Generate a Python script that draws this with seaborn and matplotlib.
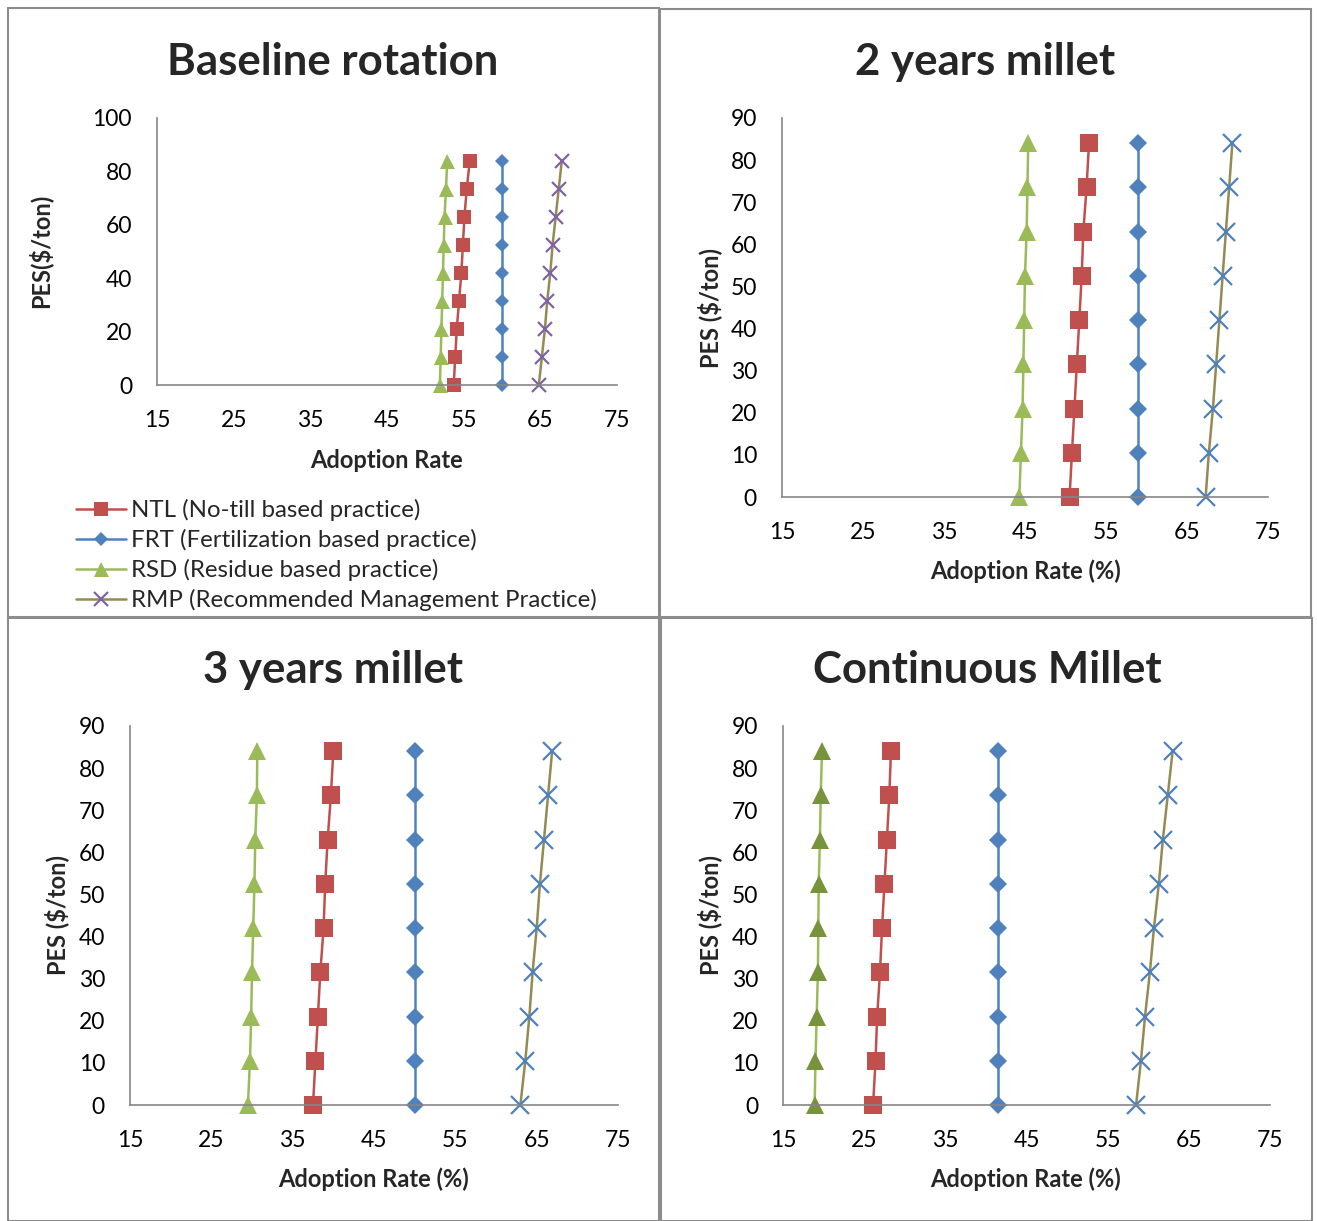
import matplotlib
matplotlib.use("Agg")
import matplotlib.pyplot as plt
import seaborn as sns
import pandas as pd
from matplotlib.patches import Rectangle
from matplotlib.lines import Line2D

# PES levels ($/ton), shared by every panel
pes = [0, 10.5, 21, 31.5, 42, 52.5, 63, 73.5, 84]

# Baseline rotation (adoption rate, %)
base_ntl = [53.7, 53.9, 54.1, 54.4, 54.7, 54.9, 55.1, 55.4, 55.8]
base_frt = [60.0, 60.0, 60.0, 60.0, 60.0, 60.0, 60.0, 60.0, 60.0]
base_rsd = [51.9, 52.0, 52.1, 52.2, 52.3, 52.4, 52.5, 52.7, 52.85]
base_rmp = [64.8, 65.2, 65.6, 65.9, 66.3, 66.6, 67.0, 67.4, 67.8]

# 2 years millet
y2_ntl = [50.5, 50.8, 51.1, 51.4, 51.7, 52.0, 52.2, 52.6, 52.9]
y2_frt = [58.9, 58.9, 58.9, 58.9, 58.9, 58.9, 58.9, 58.9, 58.9]
y2_rsd = [44.3, 44.5, 44.7, 44.8, 44.9, 45.0, 45.2, 45.3, 45.4]
y2_rmp = [67.3, 67.7, 68.2, 68.6, 69.0, 69.4, 69.8, 70.2, 70.6]

# 3 years millet
y3_ntl = [37.5, 37.8, 38.1, 38.4, 38.8, 39.0, 39.3, 39.7, 40.0]
y3_frt = [50.1, 50.1, 50.1, 50.1, 50.1, 50.1, 50.1, 50.1, 50.1]
y3_rsd = [29.5, 29.75, 29.9, 30.0, 30.15, 30.3, 30.4, 30.6, 30.65]
y3_rmp = [63.0, 63.6, 64.1, 64.5, 65.0, 65.4, 65.9, 66.4, 66.9]

# Continuous millet
cm_ntl = [26.1, 26.4, 26.6, 26.95, 27.2, 27.5, 27.8, 28.1, 28.3]
cm_frt = [41.5, 41.5, 41.5, 41.5, 41.5, 41.5, 41.5, 41.5, 41.5]
cm_rsd = [18.9, 19.0, 19.15, 19.3, 19.35, 19.4, 19.55, 19.65, 19.8]
cm_rmp = [58.5, 59.1, 59.6, 60.2, 60.7, 61.3, 61.8, 62.4, 63.0]

titles = ["Baseline rotation", "2 years millet", "3 years millet", "Continuous Millet"]
ylabels = ["PES($/ton)", "PES ($/ton)", "PES ($/ton)", "PES ($/ton)"]
xlabels = ["Adoption Rate", "Adoption Rate (%)", "Adoption Rate (%)", "Adoption Rate (%)"]
legend_labels = ["NTL (No-till based practice)", "FRT (Fertilization based practice)",
                 "RSD (Residue based practice)", "RMP (Recommended Management Practice)"]
x_ticks = [15, 25, 35, 45, 55, 65, 75]

RED, BLUE, GREEN, OLIVE = "#C0504D", "#4F81BD", "#9BBB59", "#948A54"
PURPLE, DKGREEN = "#8064A2", "#77933C"
GREY = "#868686"

TICK_FS, LABEL_FS, TITLE_FS, LEG_FS = 16.5, 17, 31.5, 17.3

sns.set_style("white")
plt.rcParams["font.family"] = ["Lato", "DejaVu Sans"]

W, H = 1317, 1221
fig = plt.figure(figsize=(W / 100, H / 100), dpi=100)


def px_axes(l, t, r, b):
    return fig.add_axes([l / W, 1 - b / H, (r - l) / W, (b - t) / H])


def fig_text(x, y, s, **kw):
    fig.text(x / W, 1 - y / H, s, ha="center", va="center", **kw)


panels = [
    dict(box=(157, 118, 617, 385), ymax=100, ystep=20, big=False,
         series=[base_ntl, base_frt, base_rsd, base_rmp], xmark=PURPLE, tri=GREEN,
         title=(333, 62), ylab=(40, 251), xlab=(387, 460)),
    dict(box=(782, 118, 1268, 497), ymax=90, ystep=10, big=True,
         series=[y2_ntl, y2_frt, y2_rsd, y2_rmp], xmark=BLUE, tri=GREEN,
         title=(985, 62), ylab=(710, 308), xlab=(1025, 571)),
    dict(box=(130, 726, 618, 1105), ymax=90, ystep=10, big=True,
         series=[y3_ntl, y3_frt, y3_rsd, y3_rmp], xmark=BLUE, tri=GREEN,
         title=(333, 670), ylab=(57, 915), xlab=(374, 1179)),
    dict(box=(783, 726, 1270, 1105), ymax=90, ystep=10, big=True,
         series=[cm_ntl, cm_frt, cm_rsd, cm_rmp], xmark=BLUE, tri=DKGREEN,
         title=(987, 670), ylab=(710, 915), xlab=(1026, 1179)),
]

for i, p in enumerate(panels):
    ax = px_axes(*p["box"])
    ntl, frt, rsd, rmp = p["series"]
    big = p["big"]
    styles = [
        (ntl, dict(color=RED, marker="s", markersize=12.7 if big else 9.4,
                   markerfacecolor=RED, markeredgecolor=RED, markeredgewidth=0)),
        (frt, dict(color=BLUE, marker="D", markersize=8.8 if big else 7.4,
                   markerfacecolor=BLUE, markeredgecolor=BLUE, markeredgewidth=0)),
        (rsd, dict(color=GREEN, marker="^", markersize=13.0 if big else 10.8,
                   markerfacecolor=p["tri"], markeredgecolor=p["tri"], markeredgewidth=0)),
        (rmp, dict(color=OLIVE, marker="x", markersize=12.7 if big else 9.4,
                   markerfacecolor=p["xmark"], markeredgecolor=p["xmark"], markeredgewidth=1.6)),
    ]
    for xs, kw in styles:
        df = pd.DataFrame({"rate": xs, "pes": pes})
        sns.lineplot(data=df, x="rate", y="pes", orient="y", estimator=None, sort=False,
                     linewidth=1.8, clip_on=False, ax=ax, **kw)

    ax.set_xlim(15, 75)
    ax.set_ylim(0, p["ymax"])
    ax.set_xticks(x_ticks)
    ax.set_yticks(range(0, p["ymax"] + 1, p["ystep"]))
    ax.tick_params(length=0, labelsize=TICK_FS, colors="black")
    ax.tick_params(axis="y", pad=18)
    ax.tick_params(axis="x", pad=18)
    ax.set_xlabel("")
    ax.set_ylabel("")
    for side in ["top", "right"]:
        ax.spines[side].set_visible(False)
    for side in ["left", "bottom"]:
        ax.spines[side].set_color(GREY)
        ax.spines[side].set_linewidth(1.2)
    ax.set_facecolor("none")

    fig_text(*p["title"], titles[i], fontsize=TITLE_FS, fontweight="bold")
    fig_text(*p["ylab"], ylabels[i], fontsize=LABEL_FS, fontweight="bold", rotation=90)
    fig_text(*p["xlab"], xlabels[i], fontsize=LABEL_FS, fontweight="bold")

# legend (baseline panel)
handles = [
    Line2D([], [], color=RED, lw=1.8, marker="s", markersize=9.4, markeredgewidth=0),
    Line2D([], [], color=BLUE, lw=1.8, marker="D", markersize=7.4, markeredgewidth=0),
    Line2D([], [], color=GREEN, lw=1.8, marker="^", markersize=10.8, markeredgewidth=0),
    Line2D([], [], color=OLIVE, lw=1.8, marker="x", markersize=9.4,
           markeredgecolor=PURPLE, markeredgewidth=1.6),
]
fig.legend(handles, legend_labels, loc="upper left", bbox_to_anchor=(76 / W, 1 - 499 / H),
           frameon=False, fontsize=LEG_FS, handlelength=2.1, handletextpad=0.17,
           labelspacing=0.33, borderpad=0, borderaxespad=0)

# panel borders
for (l, t, r, b) in [(8, 8, 659, 617), (660, 9, 1311, 617), (8, 618, 659, 1221), (661, 618, 1312, 1221)]:
    fig.add_artist(Rectangle((l / W, 1 - b / H), (r - l) / W, (b - t) / H,
                             transform=fig.transFigure, fill=False, edgecolor="#8C8C8C", lw=1.5))

fig.savefig("out.png", dpi=100)
